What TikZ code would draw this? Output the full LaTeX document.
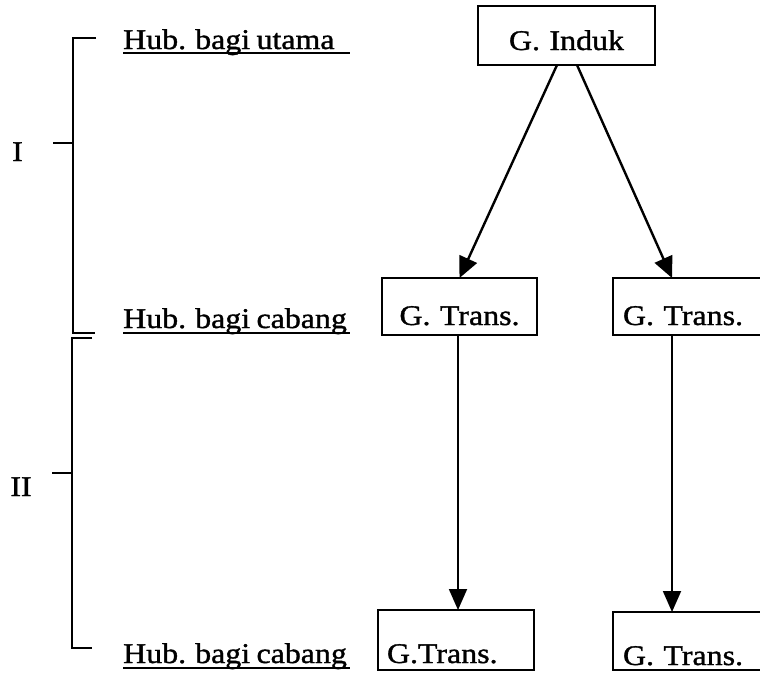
\documentclass[tikz,border=0pt]{standalone}
\usepackage{fontspec}
\setmainfont{Liberation Serif}[FakeStretch=1.12,FakeBold=1.2,WordSpace=0.8]
\usetikzlibrary{arrows.meta}
\begin{document}
\begin{tikzpicture}[x=1pt,y=-1pt,
  font=\fontsize{28.5}{33}\selectfont,
  box/.style={draw, line width=1.8pt, inner ysep=0pt, outer sep=0pt, text height=47pt, text depth=10pt, anchor=north west},
  lab/.style={anchor=base west, inner sep=0pt},
  ul/.style={line width=1.6pt},
  brk/.style={line width=1.9pt},
  arr/.style={-{Triangle[length=21pt,width=19pt]}, line width=2.4pt},
  varr/.style={-{Triangle[length=21pt,width=18pt]}, line width=1.9pt}]
\useasboundingbox (0,0) rectangle (760,672);
\clip (0,0) rectangle (760,672);

% boxes
\node[box, inner xsep=0pt, text width=177pt, align=center, text height=44pt, text depth=15pt] (ind) at (478,6) {G. Induk};
\node[box, inner xsep=0pt, text width=155pt, align=center] (t2l) at (382,278) {G. Trans.};
\node[box, inner xsep=10pt, text width=142pt, align=left] (t2r) at (613,278) {G. Trans.};
\node[box, inner xsep=9pt, text width=138pt, align=left, text height=53pt, text depth=7pt] (t3l) at (378,610) {G.Trans.};
\node[box, inner xsep=10pt, text width=142pt, align=left, text height=53pt, text depth=5pt] (t3r) at (613,612) {G. Trans.};

% arrows
\draw[arr] ([xshift=-9.5pt]ind.south) -- (t2l.north);
\draw[arr] ([xshift=10.5pt]ind.south) -- ([xshift=-22pt]t2r.north);
\draw[varr] ([xshift=-1.5pt]t2l.south) -- ([xshift=-1.5pt]t2l.south |- t3l.north);
\draw[varr] ([xshift=-22pt]t2r.south) -- ([xshift=-22pt]t2r.south |- t3r.north);

% left labels
\node[lab] (h1) at (123,49) {Hub. bagi utama};
\node[lab] (h2) at (123,328) {Hub. bagi cabang};
\node[lab] (h3) at (123,663) {Hub. bagi cabang};
\coordinate (u1) at (350,53);
\coordinate (u2) at (350,333);
\coordinate (u3) at (350,668);
\draw[ul] (h1.base west |- u1) -- (u1);
\draw[ul] (h2.base west |- u2) -- (u2);
\draw[ul] (h3.base west |- u3) -- (u3);

% brackets
\node[anchor=base, inner sep=0pt] (r1) at (17.5,161) {I};
\node[anchor=base, inner sep=0pt] (r2) at (21,496) {II};
\coordinate (b1a) at (96,38);
\coordinate (b1b) at (73,38);
\coordinate (b1c) at (73,333);
\coordinate (b1d) at (95,333);
\coordinate (b1m) at (73,143);
\coordinate (b1e) at (53,143);
\draw[brk] (b1a) -- (b1b) -- (b1c) -- (b1d);
\draw[brk] (b1e) -- (b1m);
\coordinate (b2a) at (92,338);
\coordinate (b2b) at (72,338);
\coordinate (b2c) at (72,648);
\coordinate (b2d) at (92,648);
\coordinate (b2m) at (72,473);
\coordinate (b2e) at (52,473);
\draw[brk] (b2a) -- (b2b) -- (b2c) -- (b2d);
\draw[brk] (b2e) -- (b2m);
\end{tikzpicture}
\end{document}
